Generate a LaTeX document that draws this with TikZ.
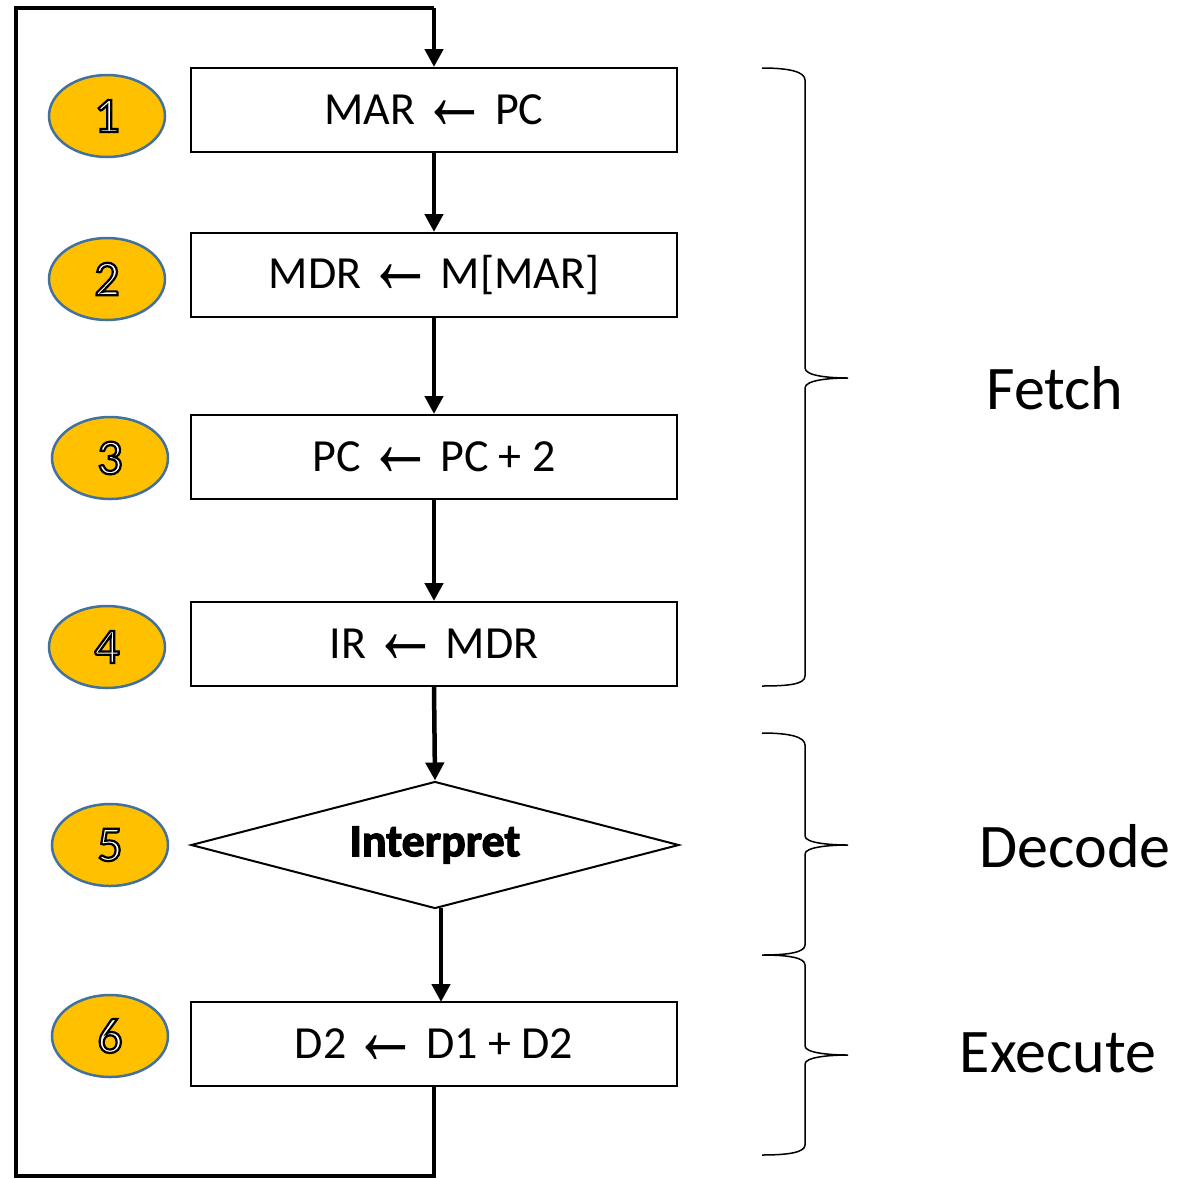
\documentclass[tikz,border=0pt]{standalone}
\usepackage{fontspec}
\usepackage{graphicx}
\setmainfont{Carlito}
\newfontfamily\arrfont{Liberation Sans}
\newfontfamily\heavy{Carlito}[BoldFeatures={FakeBold=2.5}]
\usetikzlibrary{shapes.geometric,arrows.meta}
\definecolor{stepfill}{HTML}{FFC000}
\definecolor{stepline}{HTML}{41719C}
\newcommand{\lar}{\hspace{0.14em}\smash{\raisebox{3pt}{$\vcenter{\hbox{\scalebox{1.45}[2.2]{\arrfont\char"2190}}}$}}\hspace{0.14em}}
\tikzset{
  box/.style={draw, line width=2pt, minimum width=486pt, minimum height=84pt, font=\fontsize{46}{50}\selectfont, inner sep=0pt},
  num/.style={ellipse, draw=stepline, line width=2.5pt, fill=stepfill, minimum width=116pt, minimum height=82pt, inner sep=0pt, font=\fontsize{50}{54}\selectfont},
  flow/.style={line width=4.5pt, -{Triangle[length=18pt,width=18pt]}},
  loopline/.style={line width=4.5pt},
  brace/.style={line width=1.5pt},
  phase/.style={font=\fontsize{62}{66}\selectfont, inner sep=0pt}
}
\newcommand{\numtxt}[1]{\textcolor{white}{\special{pdf:code 2 Tr 2.2 w 0 G}#1\special{pdf:code 0 Tr}}}
\begin{document}
\begin{tikzpicture}[x=1pt,y=-1pt]
\useasboundingbox (0,0) rectangle (1179,1179);
% boxes
\node[box] (b1) at (434,110) {MAR\lar PC};
\node[box] (b2) at (434,275) {MDR\lar M[MAR]};
\node[box] (b3) at (434,457) {PC\lar PC + 2};
\node[box] (b4) at (434,644) {IR\lar MDR};
\node[diamond, draw, line width=2pt, minimum width=488pt, minimum height=127pt, inner sep=0pt, aspect=3.8,
      font=\fontsize{46}{50}\selectfont\heavy\bfseries] (d5) at (435,845) {Interpret};
\node[box] (b6) at (434,1044) {D2\lar D1 + D2};
% numbers
\node[num] (n1) at (107,116) {\numtxt{1}};
\node[num] (n2) at (107,279) {\numtxt{2}};
\node[num] (n3) at (110,458) {\numtxt{3}};
\node[num] (n4) at (107,647) {\numtxt{4}};
\node[num] (n5) at (110,845) {\numtxt{5}};
\node[num] (n6) at (110,1036) {\numtxt{6}};
% flow arrows
\draw[flow] (b1.south) -- (b2.north);
\draw[flow] (b2.south) -- (b3.north);
\draw[flow] (b3.south) -- (b4.north);
\draw[flow] (b4.south) -- (d5.north);
\coordinate (dbot) at (441,908);
\coordinate (b6top) at (441,1002);
\draw[flow] (dbot) -- (b6top);
\coordinate (lb) at (434,1176);
\coordinate (ll) at (16,1176);
\coordinate (tl) at (16,8);
\coordinate (tr) at (434,8);
\draw[loopline] (b6.south) -- (lb) -- (ll) -- (tl) -- (tr);
\draw[flow] (tr) -- (b1.north);
% braces
\draw[brace] (762,68) .. controls (790,68) and (805,72) .. (805,80) -- (805,368)
  .. controls (805,376) and (830,378) .. (848,378)
  .. controls (830,378) and (805,380) .. (805,388) -- (805,676)
  .. controls (805,684) and (790,686) .. (762,686);
\draw[brace] (762,733) .. controls (790,733) and (805,737) .. (805,745) -- (805,836)
  .. controls (805,843) and (830,845) .. (848,845)
  .. controls (830,845) and (805,847) .. (805,854) -- (805,945)
  .. controls (805,952) and (790,955) .. (762,955)
  .. controls (790,955) and (805,958) .. (805,965) -- (805,1046)
  .. controls (805,1053) and (830,1055) .. (848,1055)
  .. controls (830,1055) and (805,1057) .. (805,1064) -- (805,1145)
  .. controls (805,1152) and (790,1155) .. (762,1155);
% labels
\node[phase] (fetch) at (1055,388) {Fetch};
\node[phase] (decode) at (1075,846) {Decode};
\node[phase] (execute) at (1058,1053) {Execute};
\end{tikzpicture}
\end{document}
